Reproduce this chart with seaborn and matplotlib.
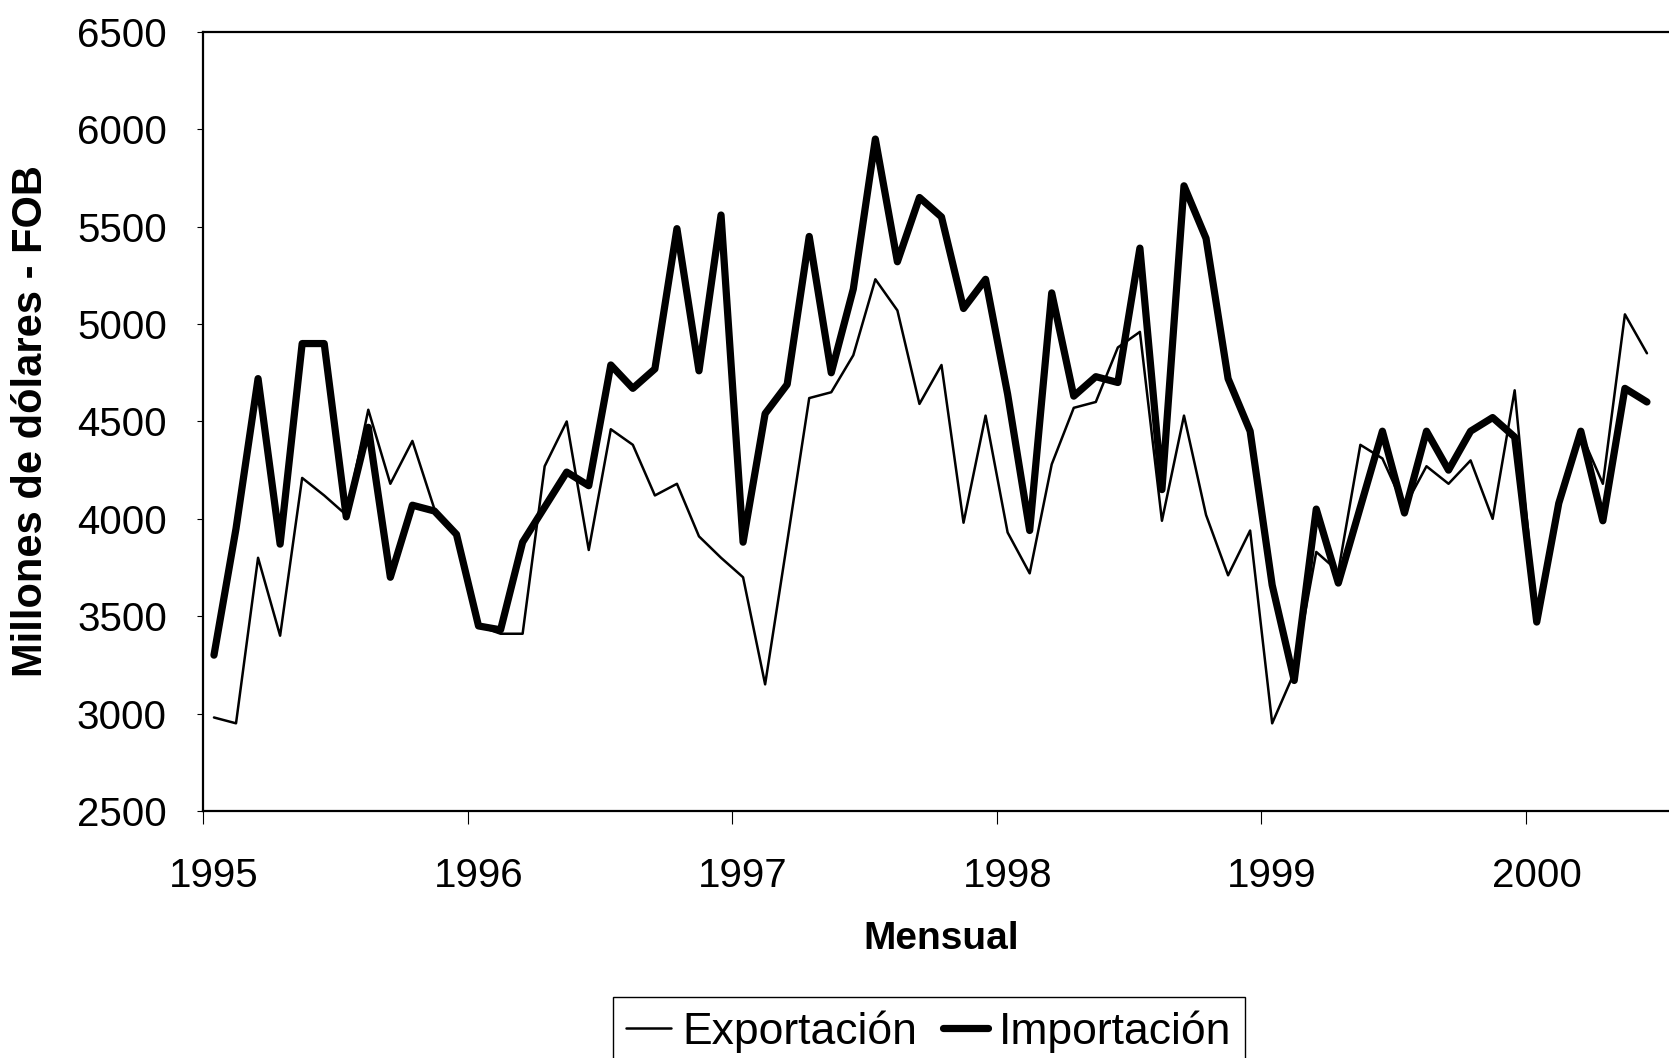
import numpy as np
import pandas as pd
import matplotlib
matplotlib.use("Agg")
import matplotlib.pyplot as plt
import seaborn as sns

# monthly values, Jan 1995 .. Jun 2000 (millones de dolares FOB)
expo = [2980, 2950, 3800, 3400, 4210, 4120, 4020, 4560, 4180, 4400, 4050, 3920,
        3450, 3410, 3410, 4270, 4500, 3840, 4460, 4380, 4120, 4180, 3910, 3800,
        3700, 3150, 3880, 4620, 4650, 4840, 5230, 5070, 4590, 4790, 3980, 4530,
        3930, 3720, 4280, 4570, 4600, 4880, 4960, 3990, 4530, 4020, 3710, 3940,
        2950, 3210, 3830, 3730, 4380, 4310, 4060, 4270, 4180, 4300, 4000, 4660,
        3470, 4080, 4440, 4180, 5050, 4850]
impo = [3300, 3950, 4720, 3870, 4900, 4900, 4010, 4470, 3700, 4070, 4040, 3920,
        3450, 3430, 3880, 4060, 4240, 4170, 4790, 4670, 4770, 5490, 4760, 5560,
        3880, 4540, 4690, 5450, 4750, 5180, 5950, 5320, 5650, 5550, 5080, 5230,
        4640, 3940, 5160, 4630, 4730, 4700, 5390, 4150, 5710, 5440, 4720, 4450,
        3660, 3170, 4050, 3670, 4060, 4450, 4030, 4450, 4250, 4450, 4520, 4420,
        3470, 4080, 4450, 3990, 4670, 4600]
years = ['1995', '1996', '1997', '1998', '1999', '2000']
yticks = [2500, 3000, 3500, 4000, 4500, 5000, 5500, 6000, 6500]

mes = np.arange(len(expo))

sns.set_theme(style='white')
plt.rcParams['font.family'] = ['Liberation Sans', 'DejaVu Sans']
plt.rcParams['text.color'] = 'black'
plt.rcParams['axes.labelcolor'] = 'black'
plt.rcParams['xtick.color'] = 'black'
plt.rcParams['ytick.color'] = 'black'

fig = plt.figure(figsize=(16.69, 10.58), dpi=100)
ax = fig.add_axes([0.1216, 0.2335, 0.8784, 0.7363])

sns.lineplot(x=mes, y=expo, ax=ax, color='black', lw=1.8, label='Exportación')
sns.lineplot(x=mes, y=impo, ax=ax, color='black', lw=5.2, label='Importación')

ax.set_xlim(-0.5, 66.0)
ax.set_ylim(2500, 6500)
ax.set_yticks(yticks)
ax.set_yticklabels([str(v) for v in yticks], fontsize=29)
ax.tick_params(axis='y', direction='out', length=4, width=0.8, pad=22, left=True)

# year boundaries as ticks, labels centred on january
ax.set_xticks(np.arange(len(years)) * 12 - 0.5)
ax.set_xticklabels([])
ax.set_xticks(np.arange(len(years)) * 12, minor=True)
ax.set_xticklabels(years, minor=True, fontsize=29)
ax.tick_params(axis='x', which='major', direction='out', length=9, width=0.8, bottom=True)
ax.tick_params(axis='x', which='minor', length=0, pad=33)

for s in ['left', 'bottom', 'top']:
    ax.spines[s].set_color('black')
    ax.spines[s].set_linewidth(1.6)
ax.spines['right'].set_visible(False)

ax.set_ylabel('Millones de dólares - FOB', fontsize=30, fontweight='bold', va='center')
ax.yaxis.set_label_coords(-0.1173, 0.5)
ax.set_xlabel('Mensual', fontsize=28, fontweight='bold', va='center')
ax.xaxis.set_label_coords(0.5034, -0.1643)

handles, labels = ax.get_legend_handles_labels()
ax.get_legend().remove()
leg = fig.legend(handles, labels, loc='upper left', bbox_to_anchor=(0.3673, 0.0577),
                 ncol=2, fontsize=32, frameon=True, fancybox=False, framealpha=1,
                 edgecolor='black', borderpad=0.3, borderaxespad=0, handlelength=1.0,
                 handletextpad=0.25, columnspacing=0.6)
leg.get_frame().set_linewidth(1.0)

plt.savefig('out.png', dpi=100)
